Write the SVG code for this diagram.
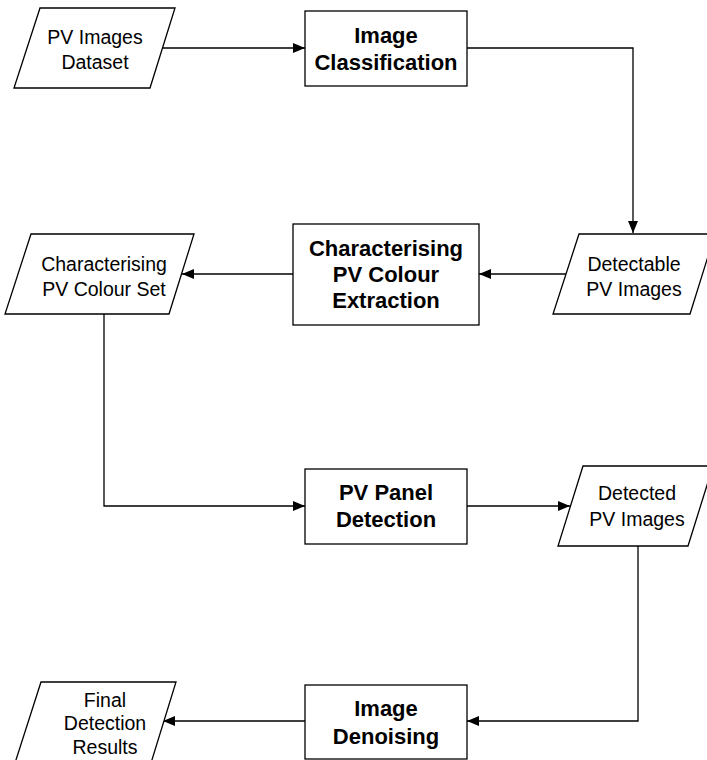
<svg xmlns="http://www.w3.org/2000/svg" width="707" height="760" viewBox="0 0 707 760">
  <defs>
    <marker id="arrow" viewBox="0 0 12 10" refX="12" refY="5" markerWidth="12" markerHeight="10" markerUnits="userSpaceOnUse" orient="auto">
      <path d="M0,0 L12,5 L0,10 Z" fill="#000"/>
    </marker>
  </defs>
  <style>
    .shape { fill: #fff; stroke: #000; stroke-width: 1.3; }
    .edge { fill: none; stroke: #000; stroke-width: 1.3; marker-end: url(#arrow); }
    .io { font-family: "Liberation Sans", Arial, sans-serif; font-size: 19.5px; fill: #000; text-anchor: middle; }
    .proc { font-family: "Liberation Sans", Arial, sans-serif; font-size: 22px; font-weight: bold; fill: #000; text-anchor: middle; }
  </style>
  <rect width="707" height="760" fill="#fff"/>

  <!-- connectors -->
  <g id="connectors">
    <path class="edge" d="M163,48 L305,48"/>
    <path class="edge" d="M467,48 L633,48 L633,233"/>
    <path class="edge" d="M566,274 L479,274"/>
    <path class="edge" d="M293,274 L182,274"/>
    <path class="edge" d="M104,314 L104,506 L305,506"/>
    <path class="edge" d="M467,506 L570,506"/>
    <path class="edge" d="M638,546 L638,721 L467,721"/>
    <path class="edge" d="M305,721 L163,721"/>
  </g>

  <!-- nodes -->
  <g id="pv-images-dataset">
    <polygon class="shape" points="40,8 175,8 150,88 14,88"/>
    <text class="io" x="95" y="44">PV Images</text>
    <text class="io" x="95" y="69">Dataset</text>
  </g>

  <g id="image-classification">
    <rect class="shape" x="305" y="11" width="162" height="75"/>
    <text class="proc" x="386" y="43">Image</text>
    <text class="proc" x="386" y="70">Classification</text>
  </g>

  <g id="detectable-pv-images">
    <polygon class="shape" points="579,234 715,234 690,314 553,314"/>
    <text class="io" x="634" y="271">Detectable</text>
    <text class="io" x="634" y="296">PV Images</text>
  </g>

  <g id="colour-extraction">
    <rect class="shape" x="293" y="224" width="186" height="101"/>
    <text class="proc" x="386" y="256">Characterising</text>
    <text class="proc" x="386" y="282">PV Colour</text>
    <text class="proc" x="386" y="308">Extraction</text>
  </g>

  <g id="colour-set">
    <polygon class="shape" points="31,234 194,234 169,314 5,314"/>
    <text class="io" x="104" y="271">Characterising</text>
    <text class="io" x="104" y="296">PV Colour Set</text>
  </g>

  <g id="pv-panel-detection">
    <rect class="shape" x="305" y="469" width="162" height="75"/>
    <text class="proc" x="386" y="500">PV Panel</text>
    <text class="proc" x="386" y="527">Detection</text>
  </g>

  <g id="detected-pv-images">
    <polygon class="shape" points="583,466 713,466 688,546 558,546"/>
    <text class="io" x="637" y="500">Detected</text>
    <text class="io" x="637" y="526">PV Images</text>
  </g>

  <g id="image-denoising">
    <rect class="shape" x="305" y="685" width="162" height="74"/>
    <text class="proc" x="386" y="716">Image</text>
    <text class="proc" x="386" y="744">Denoising</text>
  </g>

  <g id="final-detection-results">
    <polygon class="shape" points="41,682 176,682 151,763 15,763"/>
    <text class="io" x="105" y="707">Final</text>
    <text class="io" x="105" y="730">Detection</text>
    <text class="io" x="105" y="754">Results</text>
  </g>
</svg>
